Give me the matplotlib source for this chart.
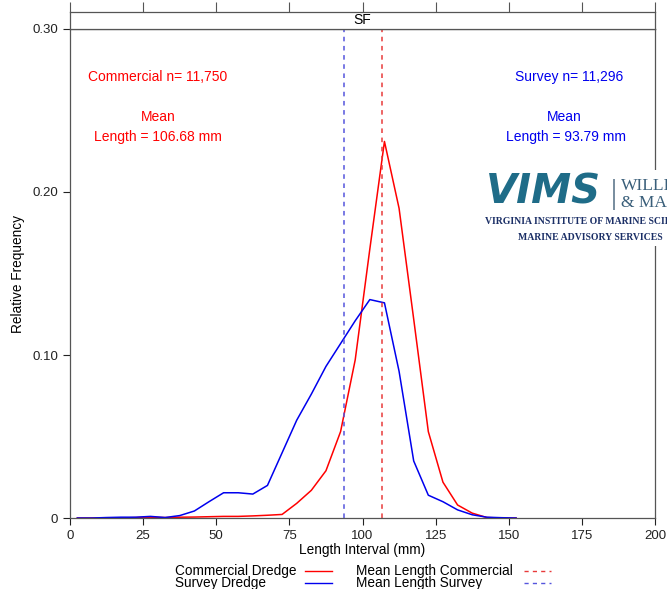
import numpy as np
import matplotlib.pyplot as plt
from matplotlib.patches import Rectangle
from matplotlib.lines import Line2D

# length-interval midpoints (mm)
lengths = [2.5, 7.5, 12.5, 17.5, 22.5, 27.5, 32.5, 37.5, 42.5, 47.5, 52.5,
           57.5, 62.5, 67.5, 72.5, 77.5, 82.5, 87.5, 92.5, 97.5, 102.5,
           107.5, 112.5, 117.5, 122.5, 127.5, 132.5, 137.5, 142.5, 147.5, 152.5]

commercial = [0, 0, 0, 0, 0.0003, 0.0005, 0.0003, 0.0005, 0.0006, 0.0008, 0.001,
              0.001, 0.0013, 0.0017, 0.0022, 0.009, 0.017, 0.029, 0.053, 0.097, 0.165,
              0.231, 0.190, 0.122, 0.053, 0.022, 0.008, 0.003, 0.0003, 0, 0]

survey = [0, 0, 0.0003, 0.0005, 0.0005, 0.001, 0.0003, 0.0015, 0.0043, 0.010, 0.0155,
          0.0155, 0.0147, 0.020, 0.040, 0.060, 0.076, 0.093, 0.107, 0.121, 0.134,
          0.132, 0.090, 0.035, 0.014, 0.010, 0.005, 0.002, 0.0005, 0.0002, 0]

mean_commercial = 106.68
mean_survey = 93.79
n_commercial = "11,750"
n_survey = "11,296"

plt.rcParams['font.family'] = ['Liberation Sans', 'DejaVu Sans']

W, H = 667, 589
fig = plt.figure(figsize=(W / 100, H / 100), dpi=100)


def fx(px):
    return px / W


def fy(py):
    return 1 - py / H


ax = fig.add_axes([0.105, 0.1205, 0.877, 0.8303])

red, blue = '#ff0000', '#0000ee'
red_d, blue_d = '#e83a3a', '#5555dd'
dash = (0, (3, 3))

ax.plot(lengths, commercial, color=red, lw=1.1)
ax.plot(lengths, survey, color=blue, lw=1.1)
ax.axvline(mean_commercial, color=red_d, lw=1.1, ls=dash)
ax.axvline(mean_survey, color=blue_d, lw=1.1, ls=dash)

ax.set_xlim(0, 200)
ax.set_ylim(0, 0.30)
ax.set_xticks(np.arange(0, 201, 25))
ax.set_yticks([0, 0.10, 0.20, 0.30])
ax.set_yticklabels(['0', '0.10', '0.20', '0.30'])
ax.tick_params(direction='out', length=5, width=0.8, labelsize=9.5, colors='#222222')
for s in ax.spines.values():
    s.set_color('#555555')
    s.set_linewidth(0.9)
ax.set_xlabel('Length Interval (mm)', fontsize=9.8, labelpad=1)
ax.set_ylabel('Relative Frequency', fontsize=9.8, labelpad=5)

# summary text
ax.text(30, 0.2706, 'Commercial n= ' + n_commercial, color=red, fontsize=10,
        ha='center', va='center')
ax.text(30, 0.2460, 'Mean', color=red, fontsize=10, ha='center', va='center')
ax.text(30, 0.2337, 'Length = %.2f mm' % mean_commercial, color=red, fontsize=10,
        ha='center', va='center')
ax.text(170.5, 0.2706, 'Survey n= ' + n_survey, color=blue, fontsize=10,
        ha='center', va='center')
ax.text(169, 0.2460, 'Mean', color=blue, fontsize=10, ha='center', va='center')
ax.text(169.5, 0.2337, 'Length = %.2f mm' % mean_survey, color=blue, fontsize=10,
        ha='center', va='center')

# panel strip on top
strip = fig.add_axes([0.105, 0.9508, 0.877, 0.0288])
strip.set_xlim(0, 200)
strip.set_xticks(np.arange(0, 201, 25))
strip.set_yticks([])
strip.tick_params(axis='x', top=True, bottom=False, labeltop=False, labelbottom=False,
                  direction='out', length=7, width=0.8, colors='#555555')
for s in strip.spines.values():
    s.set_color('#555555')
    s.set_linewidth(0.9)
strip.text(0.5, 0.5, 'SF', transform=strip.transAxes, ha='center', va='center',
           fontsize=10)

# logo block
fig.patches.append(Rectangle((fx(483), fy(246)), 0.3, fy(170) - fy(246),
                             transform=fig.transFigure, facecolor='white',
                             edgecolor='none', zorder=5))
fig.text(fx(486), fy(193), 'VIMS', fontsize=29, fontweight='bold', style='italic',
         color='#1f6c88', family='DejaVu Sans', va='center', ha='left', zorder=6)
fig.patches.append(Rectangle((fx(613), fy(210)), fx(1.5), fy(179) - fy(210),
                             transform=fig.transFigure, facecolor='#7a8fa0',
                             edgecolor='none', zorder=6))
fig.text(fx(621), fy(186), 'WILLI', fontsize=12.5, color='#3a5f7a',
         family='Liberation Serif', va='center', ha='left', zorder=6)
fig.text(fx(621), fy(203), '& MA', fontsize=12.5, color='#3a5f7a',
         family='Liberation Serif', va='center', ha='left', zorder=6)
fig.text(fx(485), fy(222), 'VIRGINIA INSTITUTE OF MARINE SCIENCE', fontsize=7.0,
         fontweight='bold', color='#1b2f66', family='Liberation Serif',
         va='center', ha='left', zorder=6)
fig.text(fx(590), fy(237), 'MARINE ADVISORY SERVICES', fontsize=7.0,
         fontweight='bold', color='#1b2f66', family='Liberation Serif',
         va='center', ha='center', zorder=6)

# legend below the axes
legend_rows = [
    (175, 305, 571, 'Commercial Dredge', red, '-'),
    (175, 305, 583, 'Survey Dredge', blue, '-'),
    (356, 524, 571, 'Mean Length Commercial', red_d, dash),
    (356, 524, 583, 'Mean Length Survey', blue_d, dash),
]
for tx, lx, ty, label, col, ls in legend_rows:
    fig.text(fx(tx), fy(ty), label, fontsize=9.8, ha='left', va='center')
    fig.add_artist(Line2D([fx(lx), fx(lx + 27)], [fy(ty), fy(ty)],
                          transform=fig.transFigure, color=col, lw=1, ls=ls))

fig.savefig('out.png', dpi=100, facecolor='white')
